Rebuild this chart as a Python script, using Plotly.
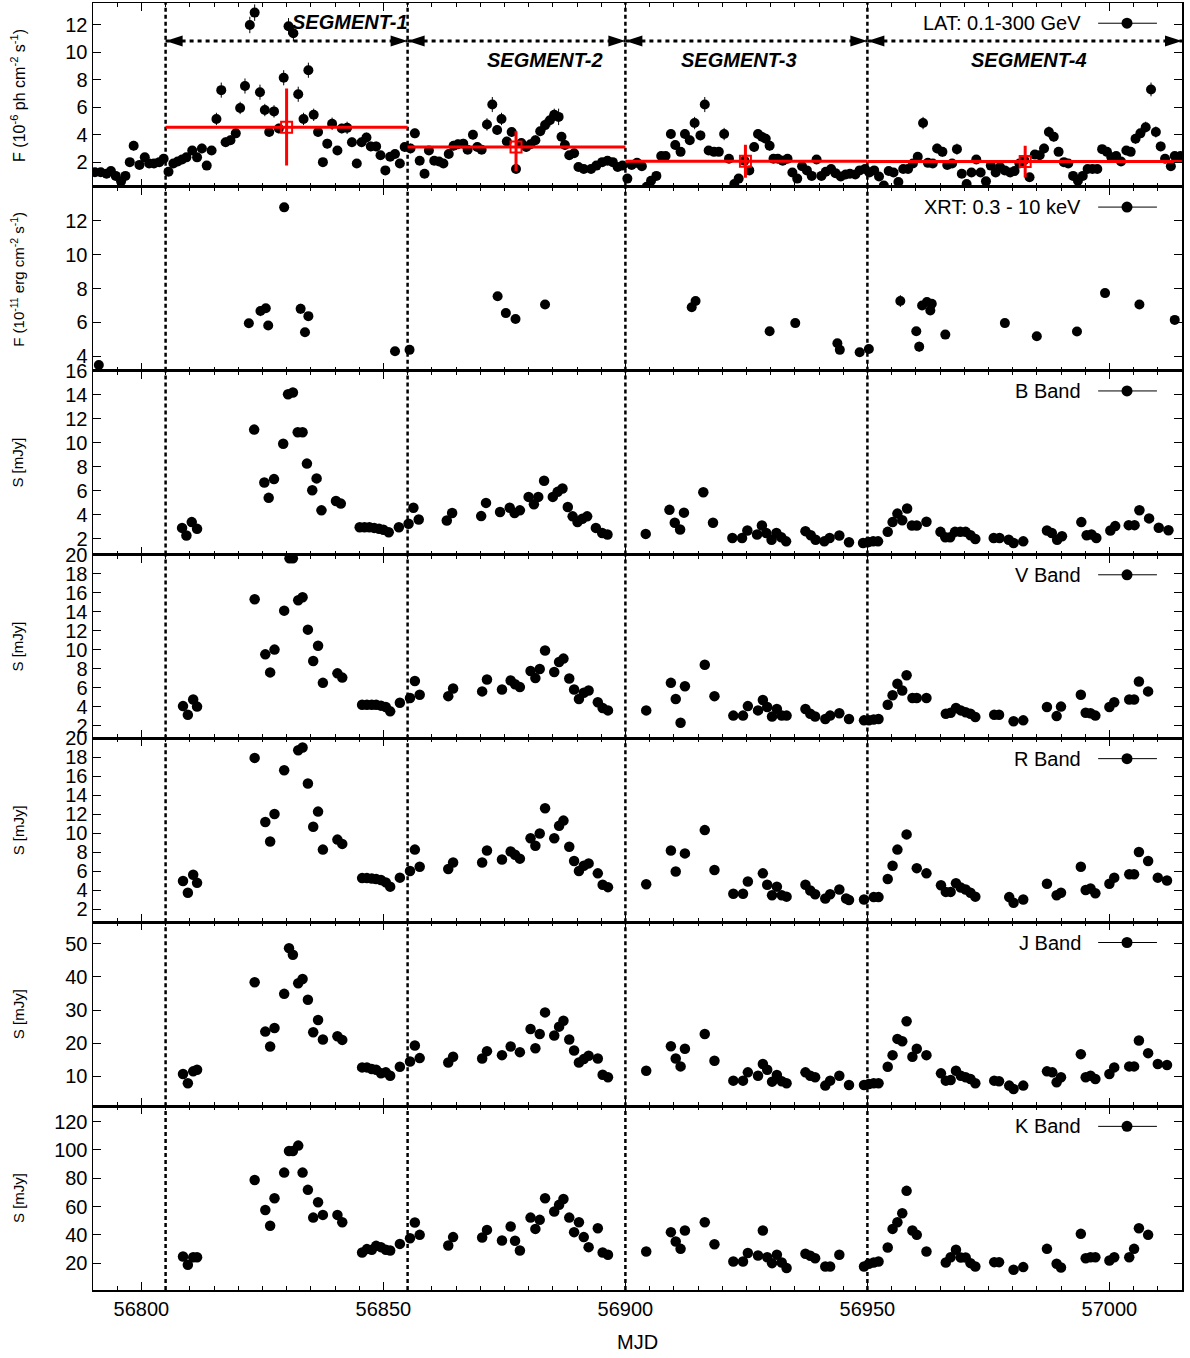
import plotly.graph_objects as go
from plotly.subplots import make_subplots

# ---------------- data ----------------
lat_mjd = [
    56790.4, 56791.6, 56792.8, 56793.7, 56794.7, 56795.8, 56796.7, 56797.6, 56798.4, 56799.6,
    56800.7, 56801.6, 56802.6, 56803.7, 56804.6, 56805.6, 56806.6, 56807.5, 56808.4, 56809.3,
    56810.5, 56811.5, 56812.5, 56813.5, 56814.5, 56815.5, 56816.5, 56817.4, 56818.4, 56819.5,
    56820.4, 56821.4, 56822.4, 56823.4, 56824.5, 56825.5, 56826.4, 56827.4, 56828.4, 56829.4,
    56830.4, 56831.4, 56832.4, 56833.5, 56834.5, 56835.6, 56836.5, 56837.5, 56838.4, 56839.4,
    56840.5, 56841.4, 56842.5, 56843.5, 56844.5, 56845.5, 56846.5, 56847.4, 56848.5, 56849.4,
    56850.4, 56851.4, 56852.4, 56853.4, 56854.4, 56855.6, 56856.5, 56857.5, 56858.5, 56859.4,
    56860.5, 56861.5, 56862.4, 56863.5, 56864.5, 56865.4, 56866.5, 56867.4, 56868.5, 56869.4,
    56870.3, 56871.4, 56872.5, 56873.5, 56874.4, 56875.5, 56876.5, 56877.4, 56878.5, 56879.5,
    56880.4, 56881.4, 56882.4, 56883.4, 56884.4, 56885.3, 56886.2, 56886.8, 56887.5, 56888.4,
    56889.4, 56890.3, 56891.4, 56892.9, 56894.0, 56895.2, 56896.3, 56897.4, 56898.4, 56899.4,
    56900.4, 56901.3, 56902.4, 56903.4, 56904.4, 56905.3, 56906.4, 56907.4, 56908.3, 56909.4,
    56910.3, 56911.4, 56912.3, 56913.3, 56914.3, 56915.5, 56916.4, 56917.2, 56918.3, 56919.3,
    56920.4, 56921.4, 56922.5, 56923.4, 56924.6, 56925.6, 56926.6, 56927.4, 56928.2, 56929.0,
    56929.8, 56930.6, 56931.5, 56932.5, 56933.5, 56934.5, 56935.5, 56936.5, 56937.5, 56938.5,
    56939.5, 56940.5, 56941.4, 56942.5, 56943.4, 56944.5, 56945.5, 56946.4, 56947.5, 56948.4,
    56949.5, 56950.4, 56951.4, 56952.4, 56953.4, 56954.4, 56955.4, 56956.4, 56957.4, 56958.4,
    56959.4, 56960.4, 56961.5, 56962.5, 56963.5, 56964.4, 56965.5, 56966.5, 56967.5, 56968.5,
    56969.5, 56970.5, 56971.5, 56972.5, 56973.4, 56974.5, 56975.5, 56976.5, 56977.4, 56978.4,
    56979.5, 56980.4, 56981.4, 56982.4, 56983.5, 56984.6, 56985.6, 56986.5, 56987.5, 56988.5,
    56989.5, 56990.6, 56991.5, 56992.5, 56993.5, 56994.5, 56995.5, 56996.5, 56997.5, 56998.5,
    56999.5, 57000.4, 57001.4, 57002.4, 57003.5, 57004.4, 57005.4, 57006.4, 57007.5, 57008.6,
    57009.6, 57010.6, 57011.5, 57012.7, 57013.5, 57014.7,
]
lat_flux = [
    1.27, 1.27, 1.15, 1.35, 1.00, 0.60, 1.00, 2.00, 3.20, 1.80,
    2.35, 1.90, 1.90, 2.00, 2.25, 1.30, 1.90, 2.05, 2.20, 2.35,
    2.85, 2.35, 3.00, 1.75, 2.85, 5.15, 7.25, 3.45, 3.60, 4.10,
    5.95, 7.55, 12.00, 12.90, 7.10, 5.80, 4.20, 5.70, 4.45, 8.15,
    11.90, 11.40, 6.95, 5.15, 8.70, 5.45, 4.20, 2.00, 3.35, 4.80,
    2.85, 4.45, 4.50, 3.45, 1.90, 3.45, 3.80, 3.15, 3.15, 2.50,
    1.40, 2.40, 2.60, 1.90, 3.10, 3.00, 4.10, 2.10, 1.15, 2.85,
    2.10, 2.05, 1.90, 2.60, 3.20, 3.30, 3.35, 2.90, 4.00, 3.10,
    2.90, 4.75, 6.20, 4.35, 5.15, 3.50, 4.20, 1.50, 3.40, 3.10,
    3.30, 3.60, 4.25, 4.70, 5.05, 5.45, 5.30, 3.85, 3.25, 2.50,
    2.65, 1.65, 1.50, 1.50, 1.75, 2.00, 2.10, 2.00, 1.65, 1.75,
    0.80, 1.80, 1.95, 1.70, 0.20, 0.65, 1.00, 2.45, 2.45, 4.05,
    3.25, 2.75, 4.05, 3.60, 4.85, 3.95, 6.20, 2.85, 2.75, 2.75,
    4.05, 2.25, 0.40, 0.80, 2.10, 1.40, 3.10, 4.05, 3.85, 3.70,
    3.20, 2.25, 2.25, 2.10, 2.25, 1.25, 0.80, 1.70, 1.40, 1.00,
    2.20, 1.00, 1.30, 1.50, 1.20, 0.95, 1.10, 1.15, 1.10, 1.40,
    1.50, 1.25, 1.40, 0.95, 0.30, 1.35, 1.25, 0.55, 1.50, 1.50,
    1.90, 2.40, 4.85, 1.95, 1.90, 3.00, 2.75, 1.80, 1.90, 2.95,
    1.15, 0.40, 1.25, 2.20, 1.25, 0.60, 1.75, 1.25, 1.65, 1.40,
    1.25, 1.35, 1.90, 2.15, 0.90, 2.55, 2.50, 3.00, 4.20, 3.85,
    2.75, 2.00, 1.90, 1.00, 0.65, 1.00, 1.50, 1.50, 1.50, 2.95,
    2.75, 2.35, 2.45, 2.05, 2.85, 2.75, 3.70, 4.10, 4.55, 7.30,
    4.20, 3.15, 2.25, 1.70, 2.45, 2.45,
]
lat_err = [
    .25, .25, .25, .25, .25, .25, .25, .30, .35, .30,
    .30, .30, .30, .30, .30, .25, .30, .30, .30, .30,
    .30, .30, .35, .30, .30, .45, .55, .35, .35, .35,
    .45, .55, .60, .60, .55, .45, .35, .45, .35, .55,
    .60, .60, .55, .45, .55, .45, .35, .30, .35, .45,
    .30, .35, .45, .35, .30, .35, .35, .35, .35, .30,
    .25, .30, .30, .30, .35, .35, .35, .30, .25, .30,
    .30, .30, .30, .30, .35, .35, .35, .30, .35, .35,
    .30, .45, .55, .35, .45, .35, .35, .30, .35, .35,
    .35, .35, .35, .45, .45, .45, .60, .35, .35, .30,
    .30, .30, .30, .30, .30, .30, .30, .30, .30, .30,
    .25, .30, .35, .30, .25, .25, .25, .30, .30, .35,
    .35, .30, .35, .35, .45, .35, .55, .30, .30, .30,
    .45, .30, .25, .25, .30, .25, .35, .35, .35, .35,
    .35, .30, .30, .30, .30, .25, .25, .30, .25, .25,
    .30, .25, .25, .30, .25, .25, .25, .25, .25, .25,
    .30, .25, .25, .25, .25, .25, .25, .25, .30, .30,
    .30, .30, .45, .30, .30, .35, .35, .30, .30, .40,
    .25, .25, .25, .30, .25, .25, .30, .25, .30, .25,
    .25, .25, .30, .30, .25, .30, .30, .35, .40, .35,
    .30, .30, .30, .25, .25, .25, .30, .30, .30, .30,
    .30, .30, .30, .30, .30, .30, .35, .35, .40, .50,
    .40, .35, .30, .30, .30, .30,
]

# segment averages of the LAT flux
seg_names = ["SEGMENT-1", "SEGMENT-2", "SEGMENT-3", "SEGMENT-4"]
seg_start = [56805, 56855, 56900, 56950]
seg_end = [56855, 56900, 56950, 57015]
seg_mid = [56830.0, 56877.4, 56924.8, 56982.6]
seg_flux = [4.55, 3.10, 2.07, 2.05]
seg_err_hi = [2.82, 1.15, 1.20, 1.15]
seg_err_lo = [2.79, 1.75, 1.20, 1.15]
seg_label_x = [56843, 56883.3, 56923.4, 56983.3]
seg_label_y = [12.2, 9.45, 9.45, 9.45]
seg_arrow_y = 10.83

xrt_mjd = [56791.2, 56822.2, 56824.6, 56825.7, 56826.2, 56829.5, 56832.9, 56833.8, 56834.5, 56852.4,
           56855.4, 56873.6, 56875.3, 56877.3, 56883.4, 56913.7, 56914.5, 56929.8, 56935.1, 56943.8,
           56944.3, 56948.4, 56950.3, 56956.8, 56960.1, 56960.7, 56961.3, 56962.3, 56963.0, 56963.3,
           56966.1, 56978.4, 56985.0, 56993.3, 56999.1, 57006.2, 57013.5]
xrt_flux = [3.49, 5.95, 6.67, 6.84, 5.82, 12.79, 6.80, 5.42, 6.37, 4.30,
            4.38, 7.54, 6.55, 6.20, 7.06, 6.90, 7.26, 5.48, 5.96, 4.77,
            4.38, 4.24, 4.43, 7.26, 5.48, 4.57, 7.00, 7.20, 6.70, 7.10,
            5.28, 5.96, 5.18, 5.46, 7.73, 7.06, 6.15]
xrt_err = [0.10, 0.10, 0.30, 0.10, 0.10, 0.15, 0.30, 0.10, 0.10, 0.10,
           0.10, 0.10, 0.10, 0.10, 0.10, 0.10, 0.10, 0.10, 0.10, 0.10,
           0.10, 0.10, 0.10, 0.35, 0.10, 0.30, 0.10, 0.10, 0.10, 0.10,
           0.10, 0.10, 0.10, 0.10, 0.10, 0.10, 0.10]

b_mjd = [56808.4, 56809.3, 56810.4, 56811.5, 56823.3, 56825.4, 56826.3, 56827.4, 56829.3, 56830.3,
         56831.3, 56832.3, 56833.3, 56834.2, 56835.3, 56836.2, 56837.2, 56840.2, 56841.2, 56845.1,
         56846.1, 56847.1, 56848.1, 56849.1, 56850.0, 56851.1, 56853.2, 56855.2, 56856.2, 56857.3,
         56863.1, 56864.2, 56870.2, 56871.2, 56874.1, 56876.1, 56877.1, 56878.2, 56880.0, 56881.1,
         56882.0, 56883.2, 56885.0, 56886.0, 56887.0, 56888.1, 56889.1, 56890.1, 56891.1, 56892.1,
         56893.9, 56895.2, 56896.3, 56904.2, 56909.1, 56910.2, 56911.3, 56912.1, 56916.1, 56918.1,
         56922.1, 56924.1, 56925.2, 56927.2, 56928.2, 56929.1, 56930.2, 56931.2, 56932.2, 56933.2,
         56937.2, 56938.3, 56939.3, 56941.1, 56942.2, 56944.2, 56946.2, 56949.1, 56950.2, 56951.2,
         56952.2, 56954.2, 56955.2, 56956.2, 56957.2, 56958.2, 56959.2, 56960.2, 56962.2, 56965.1,
         56966.1, 56967.1, 56968.1, 56969.2, 56970.3, 56971.3, 56972.3, 56976.1, 56977.3, 56979.2,
         56980.2, 56982.2, 56987.1, 56988.1, 56989.2, 56990.2, 56994.2, 56995.3, 56996.3, 56997.3,
         57000.2, 57001.2, 57004.0, 57005.2, 57006.2, 57008.2, 57010.2, 57012.2]
b_flux = [2.92, 2.28, 3.40, 2.84, 11.10, 6.70, 5.42, 6.98, 9.92, 14.04,
          14.18, 10.88, 10.88, 8.27, 6.06, 7.04, 4.38, 5.16, 4.94, 2.98,
          2.98, 2.98, 2.92, 2.84, 2.76, 2.56, 2.98, 3.26, 4.60, 3.62,
          3.54, 4.16, 3.90, 5.00, 4.24, 4.60, 4.16, 4.38, 5.50, 4.88,
          5.50, 6.84, 5.50, 5.92, 6.20, 4.66, 3.88, 3.40, 3.68, 3.88,
          2.92, 2.50, 2.37, 2.42, 4.42, 3.35, 2.79, 4.19, 5.88, 3.35,
          2.08, 2.08, 2.70, 2.37, 3.12, 2.50, 1.94, 2.50, 2.14, 1.80,
          2.65, 2.31, 1.94, 1.80, 2.08, 2.28, 1.72, 1.66, 1.75, 1.80,
          1.80, 2.59, 3.40, 4.11, 3.55, 4.53, 3.12, 3.12, 3.43, 2.59,
          2.14, 2.14, 2.59, 2.59, 2.59, 2.31, 2.00, 2.08, 2.08, 1.94,
          1.66, 1.80, 2.70, 2.50, 1.94, 2.22, 3.40, 2.31, 2.37, 2.08,
          2.70, 3.07, 3.15, 3.15, 4.39, 3.71, 2.93, 2.73]

v_mjd = [56808.6, 56809.6, 56810.7, 56811.5, 56823.4, 56825.6, 56826.6, 56827.5, 56829.5, 56830.6,
         56831.3, 56832.4, 56833.3, 56834.4, 56835.5, 56836.5, 56837.5, 56840.5, 56841.5, 56845.6,
         56846.6, 56847.6, 56848.5, 56849.5, 56850.5, 56851.4, 56853.4, 56855.5, 56856.5, 56857.5,
         56863.4, 56864.4, 56870.4, 56871.4, 56874.5, 56876.3, 56877.2, 56878.2, 56880.4, 56881.4,
         56882.3, 56883.4, 56885.3, 56886.3, 56887.2, 56888.4, 56889.4, 56890.4, 56891.4, 56892.4,
         56894.3, 56895.3, 56896.4, 56904.3, 56909.4, 56910.4, 56911.4, 56912.3, 56916.4, 56918.4,
         56922.3, 56924.3, 56925.3, 56927.4, 56928.4, 56929.3, 56930.3, 56931.3, 56932.3, 56933.3,
         56937.2, 56938.2, 56939.2, 56941.3, 56942.3, 56944.2, 56946.2, 56949.3, 56950.3, 56951.3,
         56952.3, 56954.2, 56955.2, 56956.2, 56957.2, 56958.1, 56959.3, 56960.2, 56962.2, 56966.2,
         56967.2, 56968.3, 56969.3, 56970.3, 56971.3, 56972.3, 56976.2, 56977.2, 56980.2, 56982.2,
         56987.1, 56989.1, 56990.0, 56994.1, 56995.1, 56996.1, 56997.1, 57000.0, 57001.0, 57004.1,
         57005.1, 57006.1, 57008.0]
v_flux = [4.05, 3.13, 4.75, 4.00, 15.30, 9.50, 7.60, 10.00, 14.10, 19.60,
          19.60, 15.20, 15.50, 12.10, 8.80, 10.40, 6.50, 7.50, 7.05, 4.20,
          4.20, 4.20, 4.20, 4.10, 3.95, 3.50, 4.40, 4.90, 6.70, 5.25,
          5.10, 5.90, 5.60, 6.85, 5.80, 6.75, 6.35, 6.05, 7.75, 7.00,
          7.95, 9.90, 7.65, 8.70, 9.05, 6.95, 5.80, 4.80, 5.45, 5.70,
          4.45, 3.85, 3.60, 3.60, 6.50, 4.80, 2.30, 6.15, 8.40, 5.10,
          3.05, 3.05, 4.05, 3.60, 4.70, 3.95, 2.95, 3.75, 3.05, 3.05,
          3.75, 3.25, 2.95, 2.70, 3.05, 3.30, 2.70, 2.55, 2.55, 2.65,
          2.70, 4.20, 5.20, 6.40, 5.70, 7.30, 4.90, 4.90, 4.90, 3.25,
          3.35, 3.85, 3.60, 3.40, 3.25, 2.90, 3.15, 3.15, 2.45, 2.55,
          3.95, 3.00, 4.00, 5.25, 3.35, 3.30, 3.05, 3.95, 4.45, 4.75,
          4.75, 6.65, 5.60]

r_mjd = [56808.6, 56809.6, 56810.7, 56811.5, 56823.4, 56825.6, 56826.6, 56827.5, 56829.5, 56832.4,
         56833.3, 56834.4, 56835.5, 56836.5, 56837.5, 56840.5, 56841.5, 56845.6, 56846.6, 56847.6,
         56848.5, 56849.5, 56850.5, 56851.4, 56853.4, 56855.5, 56856.5, 56857.5, 56863.4, 56864.4,
         56870.4, 56871.4, 56874.5, 56876.3, 56877.2, 56878.2, 56880.4, 56881.4, 56882.3, 56883.4,
         56885.3, 56886.3, 56887.2, 56888.4, 56889.4, 56890.4, 56891.4, 56892.4, 56894.3, 56895.3,
         56896.4, 56904.3, 56909.4, 56910.4, 56912.3, 56916.4, 56918.4, 56922.3, 56924.3, 56925.3,
         56928.4, 56929.3, 56930.3, 56931.3, 56932.3, 56933.3, 56937.2, 56938.2, 56939.2, 56941.3,
         56942.3, 56944.2, 56945.6, 56946.2, 56949.3, 56951.3, 56952.3, 56954.2, 56955.2, 56956.2,
         56958.1, 56960.2, 56962.2, 56965.2, 56966.2, 56967.2, 56968.3, 56969.3, 56970.3, 56971.3,
         56972.3, 56979.3, 56980.2, 56982.2, 56987.1, 56989.1, 56990.0, 56994.1, 56995.1, 56996.1,
         56997.1, 57000.0, 57001.0, 57004.1, 57005.1, 57006.1, 57008.0, 57010.0, 57011.9]
r_flux = [5.00, 3.75, 5.65, 4.80, 17.95, 11.20, 9.15, 12.05, 16.65, 18.75,
          19.05, 15.25, 10.70, 12.30, 8.30, 9.35, 8.90, 5.30, 5.30, 5.25,
          5.20, 5.10, 4.85, 4.40, 5.35, 6.05, 8.30, 6.50, 6.25, 6.95,
          6.95, 8.20, 7.25, 8.10, 7.75, 7.35, 9.50, 8.70, 10.00, 12.65,
          9.50, 10.80, 11.35, 8.60, 7.10, 6.05, 6.60, 6.85, 5.80, 4.60,
          4.35, 4.65, 8.20, 6.00, 7.90, 10.35, 6.15, 3.65, 3.65, 4.95,
          5.80, 4.60, 3.50, 4.40, 3.50, 3.35, 4.60, 4.00, 3.60, 3.15,
          3.60, 4.10, 3.15, 3.00, 3.05, 3.30, 3.30, 5.20, 6.60, 8.30,
          9.90, 6.35, 5.80, 4.55, 3.85, 3.85, 4.75, 4.30, 4.10, 3.75,
          3.35, 3.30, 2.70, 3.05, 4.70, 3.50, 3.75, 6.50, 4.05, 4.20,
          3.70, 4.70, 5.35, 5.70, 5.70, 8.05, 7.10, 5.35, 5.05]

j_mjd = [56808.6, 56809.6, 56810.7, 56811.5, 56823.4, 56825.6, 56826.6, 56827.5, 56829.5, 56830.5,
         56831.3, 56832.4, 56833.3, 56834.4, 56835.5, 56836.5, 56837.5, 56840.5, 56841.5, 56845.6,
         56846.6, 56847.6, 56848.5, 56849.5, 56850.5, 56851.4, 56853.4, 56855.5, 56856.5, 56857.5,
         56863.4, 56864.4, 56870.4, 56871.4, 56874.5, 56876.3, 56878.2, 56880.4, 56881.4, 56882.3,
         56883.4, 56885.3, 56886.3, 56887.2, 56888.4, 56889.4, 56890.4, 56891.4, 56892.4, 56894.3,
         56895.3, 56896.4, 56904.3, 56909.4, 56910.4, 56911.4, 56912.3, 56916.4, 56918.4, 56922.3,
         56924.3, 56925.3, 56927.4, 56928.4, 56929.3, 56930.3, 56931.3, 56932.3, 56933.3, 56937.2,
         56938.2, 56939.2, 56941.3, 56942.3, 56944.2, 56946.2, 56949.3, 56950.3, 56951.3, 56952.3,
         56954.2, 56955.2, 56956.2, 56957.2, 56958.1, 56959.3, 56960.2, 56962.2, 56965.2, 56966.2,
         56967.2, 56968.3, 56969.3, 56970.3, 56971.3, 56972.3, 56976.2, 56977.2, 56979.3, 56980.2,
         56982.2, 56987.1, 56988.2, 56989.1, 56990.0, 56994.1, 56995.1, 56996.1, 56997.1, 57000.0,
         57001.0, 57004.1, 57005.1, 57006.1, 57008.0, 57010.0, 57011.9]
j_flux = [10.7, 7.9, 11.5, 12.0, 38.4, 23.5, 19.0, 24.6, 34.9, 48.7,
          46.7, 38.1, 39.4, 33.1, 23.3, 27.0, 21.1, 22.1, 21.0, 12.7,
          12.7, 12.2, 12.0, 10.9, 11.2, 10.2, 12.9, 14.5, 19.3, 15.5,
          14.2, 15.9, 15.4, 17.6, 16.4, 19.0, 17.3, 24.3, 18.5, 22.8,
          29.3, 22.3, 25.0, 26.8, 21.1, 17.8, 14.2, 15.2, 16.2, 15.4,
          10.5, 9.7, 11.7, 19.1, 15.4, 13.0, 18.3, 22.8, 14.7, 8.7,
          8.7, 11.2, 10.2, 13.7, 12.0, 8.4, 10.4, 8.5, 7.9, 11.2,
          10.2, 9.7, 7.2, 8.7, 10.2, 7.4, 7.4, 7.7, 7.9, 7.9,
          12.9, 16.4, 21.3, 20.6, 26.6, 15.9, 18.3, 16.4, 10.9, 8.7,
          8.9, 11.7, 10.2, 9.7, 9.2, 7.9, 8.7, 8.5, 7.2, 6.2,
          7.2, 11.5, 11.2, 8.2, 9.7, 16.7, 9.7, 10.2, 9.2, 10.7,
          12.7, 13.0, 13.0, 20.8, 17.0, 13.7, 13.4]

k_mjd = [56808.6, 56809.6, 56810.7, 56811.5, 56823.4, 56825.6, 56826.6, 56827.5, 56829.5, 56830.5,
         56831.3, 56832.4, 56833.3, 56834.4, 56835.5, 56836.5, 56837.5, 56840.5, 56841.5, 56845.6,
         56846.6, 56847.6, 56848.5, 56849.5, 56850.5, 56851.4, 56853.4, 56855.5, 56856.5, 56857.5,
         56863.4, 56864.4, 56870.4, 56871.4, 56874.5, 56876.3, 56877.2, 56878.2, 56880.4, 56881.4,
         56882.3, 56883.4, 56885.3, 56886.3, 56887.2, 56888.4, 56889.4, 56890.4, 56891.4, 56892.4,
         56894.3, 56895.3, 56896.4, 56904.3, 56909.4, 56910.4, 56911.4, 56912.3, 56916.4, 56918.4,
         56922.3, 56924.3, 56925.3, 56927.4, 56928.4, 56929.3, 56930.3, 56931.3, 56932.3, 56933.3,
         56937.2, 56938.2, 56939.2, 56941.3, 56942.3, 56944.2, 56949.3, 56950.3, 56951.3, 56952.3,
         56954.2, 56955.2, 56956.2, 56957.2, 56958.1, 56959.3, 56960.2, 56962.2, 56966.2, 56967.2,
         56968.3, 56969.3, 56970.3, 56971.3, 56972.3, 56976.2, 56977.2, 56980.2, 56982.2, 56987.1,
         56989.1, 56990.0, 56994.1, 56995.1, 56996.1, 56997.1, 57000.0, 57001.0, 57004.1, 57005.1,
         57006.1, 57008.0]
k_flux = [24.7, 18.8, 24.2, 24.2, 78.8, 57.6, 46.4, 65.9, 84.0, 99.3,
          99.3, 103.1, 84.0, 71.8, 52.2, 63.1, 54.1, 54.1, 48.9, 27.5,
          29.9, 29.4, 32.2, 31.3, 29.4, 28.9, 33.6, 37.6, 48.7, 40.0,
          32.5, 38.4, 38.1, 43.5, 36.0, 45.9, 35.8, 28.9, 52.2, 44.2,
          50.6, 65.9, 56.5, 61.2, 65.4, 52.2, 41.9, 48.9, 38.4, 31.3,
          44.7, 27.5, 25.9, 28.2, 41.9, 35.3, 30.1, 43.1, 48.9, 33.4,
          21.2, 21.2, 27.1, 25.4, 43.1, 24.2, 20.0, 25.9, 20.5, 16.5,
          26.6, 25.2, 23.5, 17.6, 17.6, 25.9, 17.6, 19.5, 20.5, 21.2,
          31.1, 44.2, 48.9, 55.3, 71.1, 43.1, 40.0, 28.2, 20.5, 24.2,
          29.4, 24.0, 24.0, 20.0, 17.6, 20.7, 20.7, 15.3, 17.2, 30.1,
          19.5, 16.9, 40.7, 23.5, 24.2, 24.2, 21.9, 24.2, 24.2, 30.1,
          44.7, 40.0]

# axis settings
x_range = [56790, 57015]
x_ticks = [56800, 56850, 56900, 56950, 57000]
segment_bounds = [56805, 56855, 56900, 56950]

panel_labels = ["LAT: 0.1-300 GeV", "XRT: 0.3 - 10 keV", "B Band", "V Band", "R Band", "J Band", "K Band"]
panel_titles = ["F (10<sup>-6</sup> ph cm<sup>-2</sup> s<sup>-1</sup>)",
                "F (10<sup>-11</sup> erg cm<sup>-2</sup> s<sup>-1</sup>)",
                "S [mJy]", "S [mJy]", "S [mJy]", "S [mJy]", "S [mJy]"]
y_ranges = [[0.2, 13.6], [3.15, 14.0], [0.7, 16.0], [0.65, 20.0], [0.65, 20.0], [1.0, 56.5], [1.0, 131.0]]
y_ticks = [[2, 4, 6, 8, 10, 12],
           [4, 6, 8, 10, 12],
           [2, 4, 6, 8, 10, 12, 14, 16],
           [2, 4, 6, 8, 10, 12, 14, 16, 18, 20],
           [2, 4, 6, 8, 10, 12, 14, 16, 18, 20],
           [10, 20, 30, 40, 50],
           [20, 40, 60, 80, 100, 120]]

assert len(lat_mjd) == len(lat_flux) == len(lat_err)
assert len(xrt_mjd) == len(xrt_flux) == len(xrt_err)
assert len(b_mjd) == len(b_flux)
assert len(v_mjd) == len(v_flux)
assert len(r_mjd) == len(r_flux)
assert len(j_mjd) == len(j_flux)
assert len(k_mjd) == len(k_flux)

# ---------------- figure ----------------
FONT = "Liberation Sans, Arial, Helvetica, sans-serif"
fig = make_subplots(rows=7, cols=1, shared_xaxes=True, vertical_spacing=0)

mk = dict(color="black", size=10)
fig.add_trace(go.Scatter(x=lat_mjd, y=lat_flux, mode="markers", marker=mk,
                         error_y=dict(type="data", array=lat_err, color="black", thickness=1, width=0),
                         showlegend=False), row=1, col=1)

# segment averages (red)
fig.add_trace(go.Scatter(
    x=seg_mid, y=seg_flux, mode="markers",
    marker=dict(symbol="square-open", size=11, color="red", line=dict(width=2, color="red")),
    error_x=dict(type="data", symmetric=False,
                 array=[e - m for e, m in zip(seg_end, seg_mid)],
                 arrayminus=[m - s for m, s in zip(seg_mid, seg_start)],
                 color="red", thickness=3, width=0),
    error_y=dict(type="data", symmetric=False, array=seg_err_hi, arrayminus=seg_err_lo,
                 color="red", thickness=3, width=0),
    showlegend=False), row=1, col=1)

fig.add_trace(go.Scatter(x=xrt_mjd, y=xrt_flux, mode="markers", marker=mk,
                         error_y=dict(type="data", array=xrt_err, color="black", thickness=1, width=0),
                         showlegend=False), row=2, col=1)

omk = dict(color="black", size=10.5)
for row, (xs, ys) in enumerate([(b_mjd, b_flux), (v_mjd, v_flux), (r_mjd, r_flux),
                                 (j_mjd, j_flux), (k_mjd, k_flux)], start=3):
    fig.add_trace(go.Scatter(x=xs, y=ys, mode="markers", marker=omk, showlegend=False), row=row, col=1)

# vertical dotted separators in all panels
for xb in segment_bounds:
    fig.add_vline(x=xb, line=dict(color="black", width=2.5, dash="4px,3px"), layer="below",
                  row="all", col=1)

# segment arrows in top panel
shapes = []
for s, e in zip(seg_start, seg_end):
    shapes.append(dict(type="line", xref="x", yref="y", x0=s, x1=e, y0=seg_arrow_y, y1=seg_arrow_y,
                       line=dict(color="black", width=3, dash="4px,4px")))
    shapes.append(dict(type="path", xref="x", yref="y", xsizemode="pixel", ysizemode="pixel",
                       xanchor=s, yanchor=seg_arrow_y, path="M0,0 L17,5.5 L17,-5.5 Z",
                       fillcolor="black", line=dict(width=0)))
    shapes.append(dict(type="path", xref="x", yref="y", xsizemode="pixel", ysizemode="pixel",
                       xanchor=e, yanchor=seg_arrow_y, path="M0,0 L-17,5.5 L-17,-5.5 Z",
                       fillcolor="black", line=dict(width=0)))

annotations = []
for name, lx, ly in zip(seg_names, seg_label_x, seg_label_y):
    annotations.append(dict(x=lx, y=ly, xref="x", yref="y", text="<b><i>" + name + "</i></b>",
                            showarrow=False, font=dict(family=FONT, size=20, color="black")))

# per-panel key and y titles
for i in range(7):
    sfx = "" if i == 0 else str(i + 1)
    xd = "x" + sfx + " domain"
    yd = "y" + sfx + " domain"
    ky = 0.89
    annotations.append(dict(x=0.909, y=ky, xref=xd, yref=yd, xanchor="right", yanchor="middle",
                            text=panel_labels[i], showarrow=False,
                            font=dict(family=FONT, size=20, color="black")))
    shapes.append(dict(type="line", xref=xd, yref=yd, x0=0.923, x1=0.977, y0=ky, y1=ky,
                       line=dict(color="black", width=1)))
    shapes.append(dict(type="circle", xref=xd, yref=yd, xsizemode="pixel", ysizemode="pixel",
                       xanchor=0.9495, yanchor=ky, x0=-5.5, x1=5.5, y0=-5.5, y1=5.5,
                       fillcolor="black", line=dict(width=0)))
    annotations.append(dict(x=-0.0689, y=0.5, xref="paper", yref=yd, textangle=-90,
                            xanchor="center", yanchor="middle", text=panel_titles[i], showarrow=False,
                            font=dict(family=FONT, size=15 if i > 0 else 16, color="black")))

annotations.append(dict(x=0.5, y=-0.0404, xref="paper", yref="paper", text="MJD", showarrow=False,
                        yanchor="middle", font=dict(family=FONT, size=20, color="black")))

for s in shapes:
    fig.add_shape(**s)
for a in annotations:
    fig.add_annotation(**a)

for i in range(7):
    fig.update_xaxes(range=x_range, tickvals=x_ticks, tickformat="d", ticks="inside", ticklen=8,
                     tickwidth=1, tickcolor="black", mirror="allticks", showline=True, linecolor="black",
                     linewidth=1.5, showgrid=False, zeroline=False, automargin=False,
                     minor=dict(dtick=5, tick0=56800, ticks="inside", ticklen=4, tickcolor="black",
                                showgrid=False),
                     tickfont=dict(family=FONT, size=20, color="black"),
                     showticklabels=(i == 6), row=i + 1, col=1)
    fig.update_yaxes(range=y_ranges[i], tickvals=y_ticks[i], ticks="inside", ticklen=8, tickwidth=1,
                     tickcolor="black", mirror="allticks", showline=True, linecolor="black", linewidth=1.5,
                     showgrid=False, zeroline=False, automargin=False,
                     tickfont=dict(family=FONT, size=20, color="black"), row=i + 1, col=1)

fig.update_layout(width=1190, height=1358, margin=dict(l=93, r=8, t=3, b=68, autoexpand=False),
                  plot_bgcolor="white", paper_bgcolor="white", hovermode=False,
                  font=dict(family=FONT, color="black"), showlegend=False)

fig.write_html("out.html", config={"displayModeBar": False, "staticPlot": True},
               post_script="document.body.style.margin='0';document.body.style.overflow='hidden';")
